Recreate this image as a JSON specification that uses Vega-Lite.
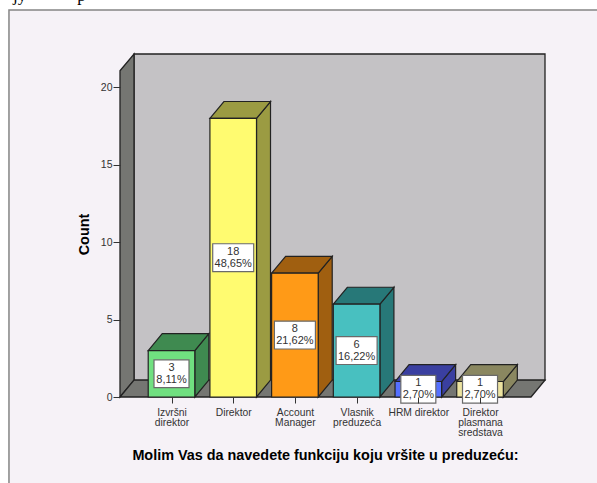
{
"$schema":"https://vega.github.io/schema/vega-lite/v6.json",
"width":425,"height":343,
"autosize":"none",
"padding":{"left":120,"top":54,"right":52,"bottom":86},
"background":"#ffffff",
"config":{"view":{"stroke":null},"font":"Liberation Sans"},
"datasets":{"funkcije":[
{"rb":1,"funkcija":"Izvršni direktor","broj":3,"procenat":"8,11%"},
{"rb":2,"funkcija":"Direktor","broj":18,"procenat":"48,65%"},
{"rb":3,"funkcija":"Account Manager","broj":8,"procenat":"21,62%"},
{"rb":4,"funkcija":"Vlasnik preduzeća","broj":6,"procenat":"16,22%"},
{"rb":5,"funkcija":"HRM direktor","broj":1,"procenat":"2,70%"},
{"rb":6,"funkcija":"Direktor plasmana sredstava","broj":1,"procenat":"2,70%"}
]},
"encoding":{
"x":{"field":"x","type":"quantitative","scale":{"domain":[0.1653,7.053],"nice":false,"zero":false},
 "axis":{"values":[1,2,3,4,5,6],"title":"Molim Vas da navedete funkciju koju vršite u preduzeću:","titleFont":"Liberation Sans","titleFontSize":14.4,"titleFontWeight":"bold","titleColor":"#000000","titleX":205,"titleY":62,"titleBaseline":"alphabetic",
 "domain":false,"grid":false,"tickSize":6,"tickColor":"#333333","tickWidth":1,"labelFont":"Liberation Sans","labelFontSize":10.3,"labelColor":"#333333","labelPadding":4,"labelLineHeight":10,"labelOverlap":false,"labelBound":false,"labelFlush":false,"labelAngle":0,"zindex":1,
 "labelExpr":"[['Izvršni','direktor'],['Direktor'],['Account','Manager'],['Vlasnik','preduzeća'],['HRM direktor'],['Direktor','plasmana','sredstava']][datum.value-1]"}},
"y":{"field":"y","type":"quantitative","stack":false,"scale":{"domain":[0,22.16],"nice":false,"zero":false},
 "axis":{"values":[0,5,10,15,20],"title":"Count","titleFont":"Liberation Sans","titleFontSize":14.4,"titleFontWeight":"bold","titleColor":"#000000","titleX":-29,"titleY":180,
 "domain":false,"grid":false,"tickSize":7,"tickColor":"#333333","tickWidth":1,"labelFont":"Liberation Sans","labelFontSize":10.5,"labelColor":"#333333","labelPadding":1,"zindex":1}},
"y2":{"field":"y2"}
},
"layer":[
{"data":{"values":[{"deo":"okvir"}]},
 "transform":[{"calculate":"-1.634","as":"x"},{"calculate":"7.98","as":"x2"},{"calculate":"25","as":"y"},{"calculate":"-6","as":"y2"}],
 "mark":{"type":"rect","fill":"#F6F2F7","stroke":"#858585","strokeWidth":1.5,"clip":false},
 "encoding":{"x2":{"field":"x2"}}},
{"data":{"values":[{"deo":"zadnji zid"}]},
 "transform":[{"calculate":"0.3923","as":"x"},{"calculate":"7.053","as":"x2"},{"calculate":"22.16","as":"y"},{"calculate":"1.09","as":"y2"}],
 "mark":{"type":"rect","fill":"#C4C2C5","stroke":"#222222","strokeWidth":1.3},
 "encoding":{"x2":{"field":"x2"}}},
{"data":{"values":[{"deo":"lijevi zid"}]},
 "transform":[{"calculate":"[0,1]","as":"c"},{"flatten":["c"]},{"calculate":"0.1653+datum.c*0.227","as":"x"},{"calculate":"21.08+datum.c*1.08","as":"y"},{"calculate":"datum.c*1.09","as":"y2"}],
 "mark":{"type":"area","fill":"#757672","stroke":"#222222","strokeWidth":1.3}},
{"data":{"values":[{"deo":"pod"}]},
 "transform":[{"calculate":"[0,1,2,3]","as":"c"},{"flatten":["c"]},{"calculate":"[0.1653,0.3923,6.826,7.053][datum.c]","as":"x"},{"calculate":"[0,1.09,1.09,1.09][datum.c]","as":"y"},{"calculate":"[0,0,0,1.09][datum.c]","as":"y2"}],
 "mark":{"type":"area","fill":"#757672","stroke":"#222222","strokeWidth":1.3}},
{"data":{"name":"funkcije"},
 "transform":[{"calculate":"[0,1]","as":"c"},{"flatten":["c"]},{"calculate":"datum.rb+0.3775+datum.c*0.227","as":"x"},{"calculate":"datum.broj+datum.c*1.09","as":"y"},{"calculate":"datum.c*1.09","as":"y2"}],
 "mark":{"type":"area","stroke":"#222222","strokeWidth":1.2,"opacity":1},
 "encoding":{"color":{"field":"funkcija","type":"nominal","legend":null,"scale":{"domain":["Izvršni direktor","Direktor","Account Manager","Vlasnik preduzeća","HRM direktor","Direktor plasmana sredstava"],"range":["#3F8A50","#9B9B42","#A05F10","#277878","#3A3FA0","#8A8760"]}}}},
{"data":{"name":"funkcije"},
 "transform":[{"calculate":"[0,1,2,3]","as":"c"},{"flatten":["c"]},{"calculate":"datum.rb-0.3775+[0,0.227,0.755,0.982][datum.c]","as":"x"},{"calculate":"datum.broj+[0,1.09,1.09,1.09][datum.c]","as":"y"},{"calculate":"datum.broj+[0,0,0,1.09][datum.c]","as":"y2"}],
 "mark":{"type":"area","stroke":"#222222","strokeWidth":1.2,"opacity":1},
 "encoding":{"color":{"field":"funkcija","type":"nominal","legend":null,"scale":{"domain":["Izvršni direktor","Direktor","Account Manager","Vlasnik preduzeća","HRM direktor","Direktor plasmana sredstava"],"range":["#3F8A50","#9B9B42","#A05F10","#277878","#3A3FA0","#8A8760"]}}}},
{"data":{"name":"funkcije"},
 "transform":[{"calculate":"datum.rb-0.3775","as":"x"},{"calculate":"datum.rb+0.3775","as":"x2"},{"calculate":"datum.broj","as":"y"},{"calculate":"0","as":"y2"}],
 "mark":{"type":"rect","stroke":"#222222","strokeWidth":1.2,"opacity":1},
 "encoding":{"x2":{"field":"x2"},"color":{"field":"funkcija","type":"nominal","legend":null,"scale":{"domain":["Izvršni direktor","Direktor","Account Manager","Vlasnik preduzeća","HRM direktor","Direktor plasmana sredstava"],"range":["#70E080","#FFFB70","#FF9A17","#48C0C0","#5570FF","#ECE3A0"]}}}},
{"data":{"name":"funkcije"},
 "transform":[{"calculate":"datum.rb-(6*length(datum.procenat)+5)/2/61.7","as":"x"},{"calculate":"datum.rb+(6*length(datum.procenat)+5)/2/61.7","as":"x2"},{"calculate":"datum.broj/2+0.9","as":"y"},{"calculate":"datum.broj/2-0.9","as":"y2"}],
 "mark":{"type":"rect","fill":"#ffffff","stroke":"#6a6a6a","strokeWidth":1.2,"clip":false},
 "encoding":{"x2":{"field":"x2"}}},
{"data":{"name":"funkcije"},
 "transform":[{"calculate":"datum.rb","as":"x"},{"calculate":"datum.broj/2","as":"y"},{"calculate":"[''+datum.broj,datum.procenat]","as":"natpis"}],
 "mark":{"type":"text","font":"Liberation Sans","fontSize":11,"lineHeight":12,"color":"#333333","baseline":"middle","align":"center","dy":-6},
 "encoding":{"text":{"field":"natpis","type":"nominal"},"y2":null}},
{"data":{"values":[{"tekst":"jy\u00a0\u00a0\u00a0\u00a0\u00a0\u00a0\u00a0\u00a0\u00a0\u00a0\u00a0\u00a0p"}]},
 "transform":[{"calculate":"-1.57","as":"x"},{"calculate":"25.6","as":"y"}],
 "mark":{"type":"text","font":"Liberation Serif","fontSize":17,"color":"#000000","align":"left","baseline":"alphabetic"},
 "encoding":{"text":{"field":"tekst","type":"nominal"},"y2":null}}
],
"resolve":{"scale":{"color":"independent"}}
}
